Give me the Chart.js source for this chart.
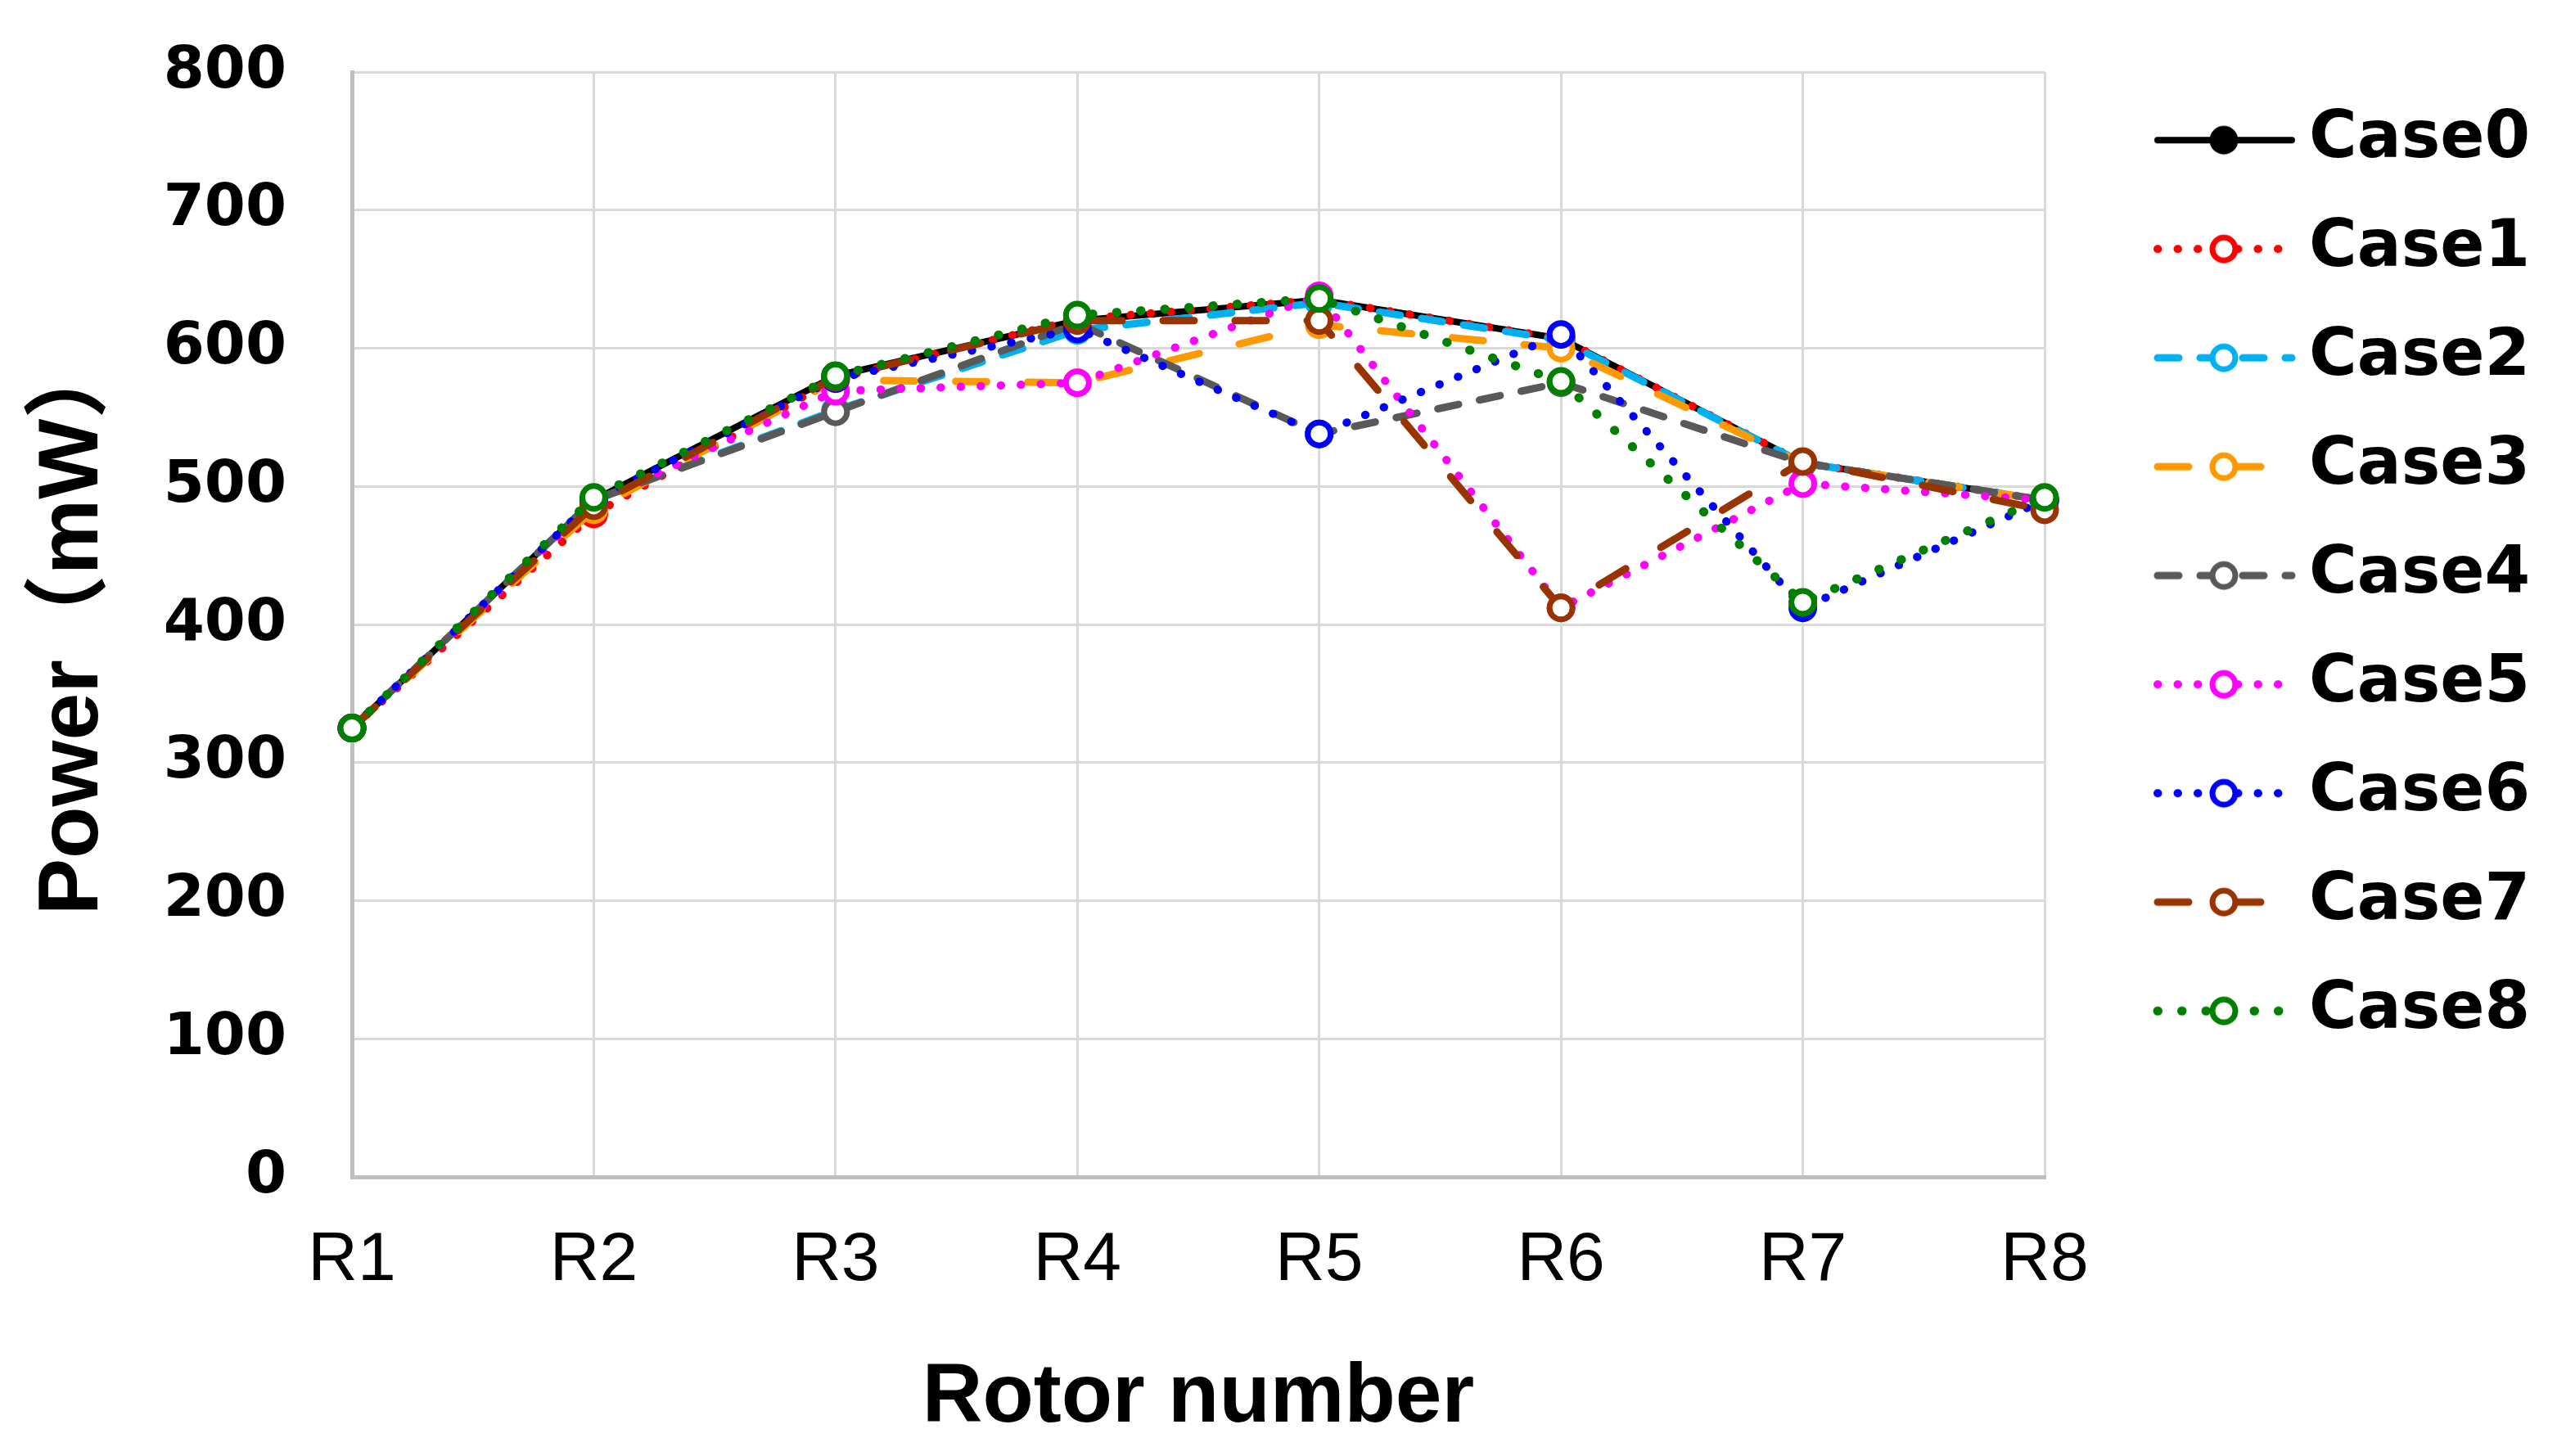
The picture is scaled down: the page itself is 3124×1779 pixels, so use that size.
<!DOCTYPE html>
<html>
<head>
<meta charset="utf-8">
<script src="https://cdn.jsdelivr.net/npm/chart.js@4.4.1/dist/chart.umd.min.js"></script>
<style>
  html, body { margin: 0; padding: 0; background: #ffffff; }
  canvas { display: block; }
</style>
</head>
<body>
<canvas id="c" width="3124" height="1779"></canvas>
<script>
// ---- data ----
const categories = ["R1", "R2", "R3", "R4", "R5", "R6", "R7", "R8"];
const seriesNames = ["Case0", "Case1", "Case2", "Case3", "Case4", "Case5", "Case6", "Case7", "Case8"];
const case0 = [325, 490, 580, 620, 635, 607, 517, 490];
const case1 = [325, 480, 578, 621, 635, 607, 517, 490];
const case2 = [325, 490, 555, 613, 633, 606, 517, 490];
const case3 = [325, 483, 577, 575, 617, 600, 517, 490];
const case4 = [325, 490, 554, 618, 538, 575, 517, 490];
const case5 = [325, 488, 569, 575, 638, 412, 502, 490];
const case6 = [325, 490, 578, 614, 538, 610, 412, 490];
const case7 = [325, 486, 579, 620, 620, 412, 518, 483];
const case8 = [325, 492, 580, 624, 636, 576, 416, 492];
const seriesValues = [case0, case1, case2, case3, case4, case5, case6, case7, case8];
const yTicks = [0, 100, 200, 300, 400, 500, 600, 700, 800];

// ---- styles ----
const colors = ["#000000", "#ff0000", "#00b0f0", "#ff9900", "#595959", "#ff00ff", "#0000ff", "#993300", "#008000"];
const dashes = [[], [0.5, 24], [26, 26], [38, 50], [26, 26], [0.5, 24], [0.5, 24], [38, 50], [0.5, 29]];
const widths = [8, 10, 9, 9, 9, 10, 10, 9, 11];
const PR = 14, PBW = 7;

function legendImage(i) {
  const cv = document.createElement("canvas");
  cv.width = 320; cv.height = 48;
  const g = cv.getContext("2d");
  g.strokeStyle = colors[i];
  g.lineWidth = widths[i];
  g.lineCap = "round";
  g.setLineDash(dashes[i]);
  g.beginPath(); g.moveTo(130, 24); g.lineTo(294, 24); g.stroke();
  g.setLineDash([]);
  g.beginPath(); g.arc(211, 24, 14, 0, Math.PI * 2);
  g.fillStyle = i === 0 ? colors[i] : "#ffffff";
  g.fill();
  g.lineWidth = PBW; g.strokeStyle = colors[i]; g.stroke();
  return cv;
}
const legendImgs = seriesNames.map((_, i) => legendImage(i));

const datasets = seriesNames.map((name, i) => ({
  label: name,
  data: seriesValues[i],
  order: seriesNames.length - 1 - i,
  borderColor: colors[i],
  backgroundColor: colors[i],
  borderWidth: widths[i],
  borderDash: dashes[i],
  borderCapStyle: "round",
  borderJoinStyle: "round",
  pointRadius: PR,
  pointBorderWidth: PBW,
  pointBorderColor: colors[i],
  pointBackgroundColor: i === 0 ? colors[i] : "#ffffff",
  pointHoverRadius: PR,
  tension: 0,
  fill: false
}));

new Chart(document.getElementById("c"), {
  type: "line",
  data: { labels: categories, datasets: datasets },
  options: {
    responsive: false,
    animation: false,
    events: [],
    layout: { padding: { left: 20, right: -50, top: 40, bottom: 4 } },
    plugins: {
      tooltip: { enabled: false },
      legend: {
        position: "right",
        align: "start",
        title: { display: true, text: "", font: { size: 1 }, padding: { top: 37, bottom: 0 } },
        labels: {
          usePointStyle: true,
          pointStyleWidth: 230,
          padding: 53,
          color: "#000000",
          font: { family: "'DejaVu Sans', sans-serif", weight: "bold", size: 80 },
          generateLabels: (chart) => chart.data.datasets.map((ds, i) => ({
            text: ds.label,
            pointStyle: legendImgs[i],
            fillStyle: "rgba(0,0,0,0)",
            strokeStyle: "rgba(0,0,0,0)",
            lineWidth: 0,
            hidden: false,
            datasetIndex: i,
            fontColor: "#000000"
          }))
        }
      }
    },
    scales: {
      x: {
        type: "category",
        offset: false,
        grid: { color: "#d9d9d9", lineWidth: 3, drawTicks: false },
        border: { color: "#bfbfbf", width: 5 },
        ticks: {
          padding: 52,
          color: "#000000",
          maxRotation: 0,
          autoSkip: false,
          font: { family: "'Liberation Sans Narrow', 'Liberation Sans', sans-serif", size: 84 }
        },
        title: {
          display: true,
          text: "Rotor number",
          color: "#000000",
          padding: { top: 0, bottom: 5 },
          font: { family: "'Liberation Sans Narrow', 'Liberation Sans', sans-serif", weight: "bold", size: 102 }
        },
        afterFit: (s) => { s.height = 337; s.paddingRight = 626; s.paddingLeft = 0; }
      },
      y: {
        min: 0,
        max: 800,
        afterBuildTicks: (s) => { s.ticks = yTicks.map(v => ({ value: v })); },
        grid: { color: "#d9d9d9", lineWidth: 3, drawTicks: false },
        border: { color: "#bfbfbf", width: 5 },
        ticks: {
          padding: 80,
          color: "#000000",
          font: { family: "'DejaVu Sans', sans-serif", weight: "bold", size: 72 }
        },
        title: {
          display: true,
          text: "Power（mW）",
          color: "#000000",
          padding: { top: 8, bottom: 0 },
          font: { family: "'Liberation Sans', 'Noto Sans CJK JP', sans-serif", weight: "bold", size: 104 }
        },
        afterFit: (s) => { s.width = 410; s.paddingTop = 88; s.paddingBottom = 0; }
      }
    }
  }
});
</script>
</body>
</html>
